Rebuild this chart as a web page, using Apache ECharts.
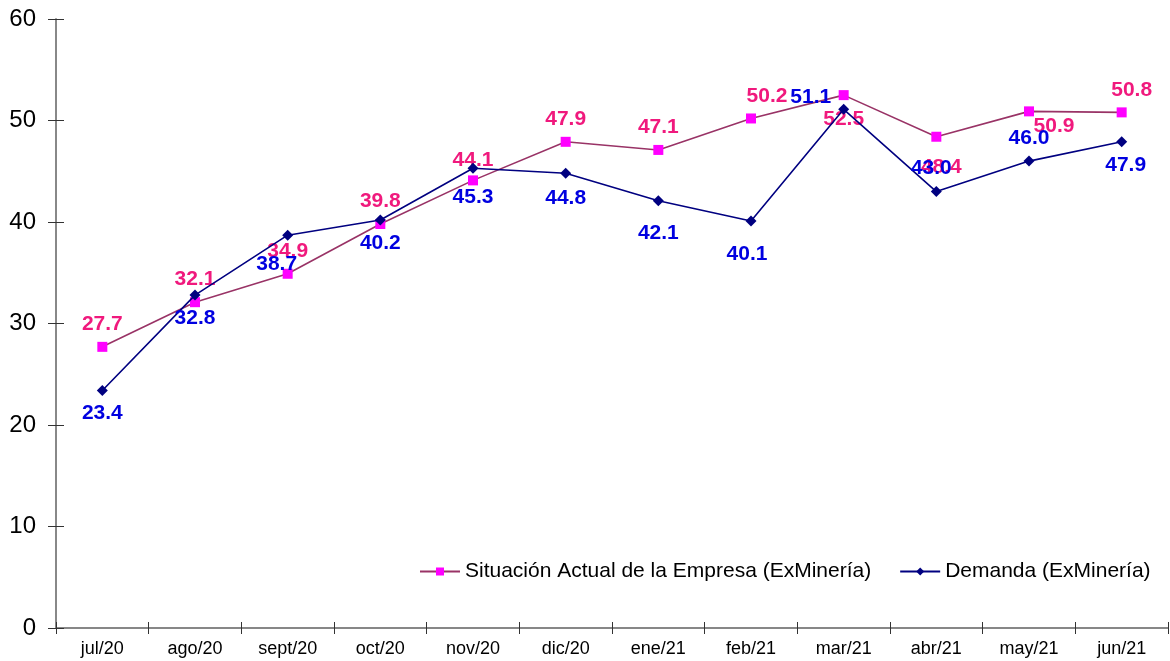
<!DOCTYPE html>
<html>
<head>
<meta charset="utf-8">
<script src="https://cdn.jsdelivr.net/npm/echarts@6/dist/echarts.min.js"></script>
<style>
  html, body { margin: 0; padding: 0; background: #fff; }
  #chart { width: 1170px; height: 661px; }
</style>
</head>
<body>
<div id="chart"></div>
<script>
// months on the x axis
const months = ["jul/20", "ago/20", "sept/20", "oct/20", "nov/20", "dic/20",
  "ene/21", "feb/21", "mar/21", "abr/21", "may/21", "jun/21"];
// series values
const situacion = [27.7, 32.1, 34.9, 39.8, 44.1, 47.9, 47.1, 50.2, 52.5, 48.4, 50.9, 50.8];
const demanda = [23.4, 32.8, 38.7, 40.2, 45.3, 44.8, 42.1, 40.1, 51.1, 43.0, 46.0, 47.9];
const seriesNames = ["Situación Actual de la Empresa (ExMinería)", "Demanda (ExMinería)"];

// label placement, like the excel original
const situacionLabelPos = [
  ["top", 0, 0], ["top", 0, 0], ["top", 0, 0], ["top", 0, 0], ["top", 0, 2], ["top", 0, 0],
  ["top", 0, 0], ["top", 16, 0], ["bottom", 0, 2], ["bottom", 5, 8], ["bottom", 25, -8], ["top", 10, 0]
];
const demandaLabelPos = [
  ["bottom", 0, 0], ["bottom", 0, 0], ["bottom", -11, 6], ["bottom", 0, 0], ["bottom", 0, 6], ["bottom", 0, 2],
  ["bottom", 0, 10], ["bottom", -4, 10], ["left", 0, -12], ["top", -5, 0], ["top", 0, 0], ["bottom", 4, 0]
];

function withLabels(values, places) {
  return values.map((v, i) => ({
    value: v,
    label: { position: places[i][0], offset: [places[i][1], places[i][2]] }
  }));
}

const axisColor = "#808080";
const tickStyle = { color: "#333" };
const box = { left: 56, right: 2, top: 19, bottom: 33 };
const chart = echarts.init(document.getElementById("chart"));
chart.setOption({
  animation: false,
  textStyle: { fontFamily: "Liberation Sans, Arial, sans-serif" },
  // second grid only carries the inner half of the crossing ticks
  grid: [box, box],
  legend: {
    left: 414,
    top: 556,
    itemWidth: 40,
    itemHeight: 10,
    itemGap: 28,
    textStyle: { fontSize: 21, color: "#000" },
    data: seriesNames
  },
  xAxis: [
    {
      type: "category",
      data: months,
      boundaryGap: true,
      axisLine: { lineStyle: { color: axisColor, width: 1.5 } },
      axisTick: { show: true, length: 6, lineStyle: tickStyle },
      axisLabel: { fontSize: 18, color: "#000", margin: 12 }
    },
    {
      type: "category",
      gridIndex: 1,
      data: months,
      boundaryGap: true,
      axisLine: { show: true, lineStyle: { color: axisColor, width: 1.5 } },
      axisTick: { show: true, inside: true, length: 6, lineStyle: tickStyle },
      axisLabel: { show: false }
    }
  ],
  yAxis: [
    {
      type: "value",
      min: 0,
      max: 60,
      interval: 10,
      splitLine: { show: false },
      axisLine: { show: true, lineStyle: { color: axisColor, width: 1.5 } },
      axisTick: { show: true, length: 8, lineStyle: tickStyle },
      axisLabel: { fontSize: 24, color: "#000", margin: 20 }
    },
    {
      type: "value",
      gridIndex: 1,
      min: 0,
      max: 60,
      interval: 10,
      splitLine: { show: false },
      axisLine: { show: true, lineStyle: { color: axisColor, width: 1.5 } },
      axisTick: { show: true, inside: true, length: 8, lineStyle: tickStyle },
      axisLabel: { show: false }
    }
  ],
  series: [
    {
      name: seriesNames[0],
      type: "line",
      data: withLabels(situacion, situacionLabelPos),
      symbol: "rect",
      symbolSize: 10,
      itemStyle: { color: "#FF00FF" },
      lineStyle: { color: "#993366", width: 1.6 },
      label: {
        show: true,
        fontSize: 21,
        fontWeight: "bold",
        color: "#F0197D",
        distance: 7,
        formatter: p => p.value.toFixed(1)
      },
      z: 3
    },
    {
      name: seriesNames[1],
      type: "line",
      data: withLabels(demanda, demandaLabelPos),
      symbol: "diamond",
      symbolSize: 11,
      itemStyle: { color: "#000080" },
      lineStyle: { color: "#000080", width: 1.6 },
      label: {
        show: true,
        fontSize: 21,
        fontWeight: "bold",
        color: "#0000E0",
        distance: 7,
        formatter: p => p.value.toFixed(1)
      },
      z: 4
    }
  ]
});
</script>
</body>
</html>
